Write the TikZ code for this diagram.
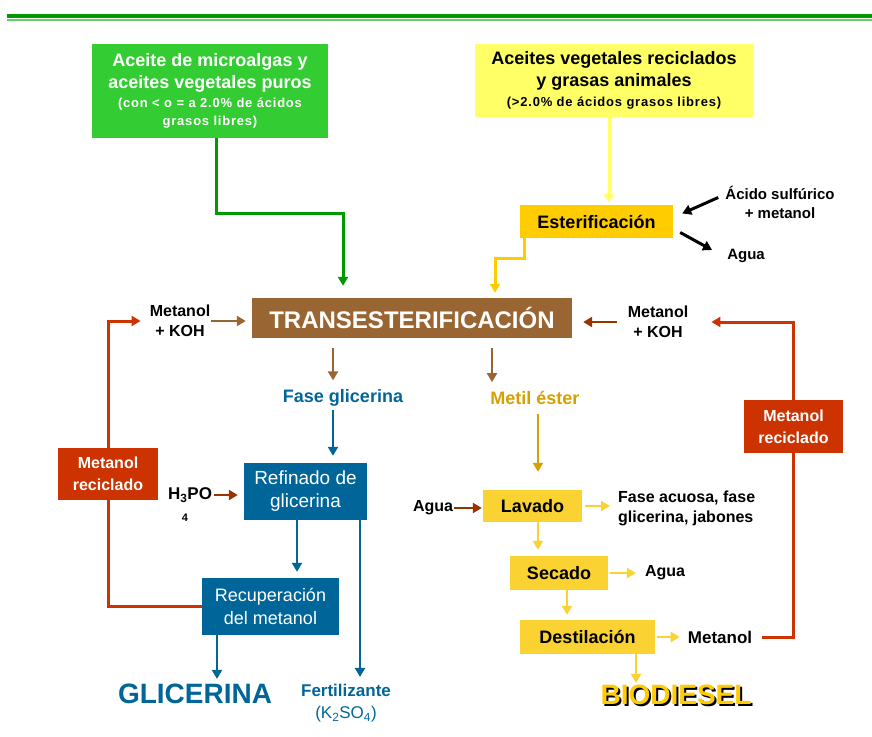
\documentclass[tikz,border=0pt]{standalone}
\usepackage{fontspec}
\setmainfont{Liberation Sans}
\usetikzlibrary{arrows.meta,positioning,calc}
\definecolor{bdgreen}{RGB}{0,153,0}
\definecolor{bdlgreen}{RGB}{102,204,102}
\definecolor{bdboxgreen}{RGB}{51,204,51}
\definecolor{bdpale}{RGB}{255,255,102}
\definecolor{bdamber}{RGB}{255,204,0}
\definecolor{bdgold}{RGB}{250,210,50}
\definecolor{bdochre}{RGB}{214,160,0}
\definecolor{bdbrown}{RGB}{153,102,51}
\definecolor{bdrust}{RGB}{153,51,0}
\definecolor{bdred}{RGB}{204,51,0}
\definecolor{bdblue}{RGB}{0,102,153}
\newcommand{\fsz}[2]{\fontsize{#1}{#2}\selectfont}
\newcommand{\smallbf}{\fsz{13}{18}\bfseries\addfontfeature{LetterSpace=6}}

\begin{document}
\begin{tikzpicture}[x=1pt,y=-1pt,
  box/.style={inner sep=0pt, align=center},
  lbl/.style={inner sep=1pt, align=center, font=\fsz{16}{20}\bfseries},
  flow/.style={-{Triangle[length=9pt,width=10pt]}, line width=2.5pt},
  big/.style={font=\fsz{18}{22}\bfseries}]
  \useasboundingbox (0,0) rectangle (872,736);
  % Header rule
  \fill[bdgreen] (7,13.5) rectangle (872,17.5);
  \fill[bdlgreen] (7,18.8) rectangle (872,20.8);
  % Feedstocks
  \node[box, big, fill=bdboxgreen, text=white, minimum width=236, minimum height=94] (micro) at (210,91)
    {Aceite de microalgas y\\aceites vegetales puros\\[-3pt]
     \smallbf (con < o = a 2.0\% de ácidos\\[-4pt]\smallbf grasos libres)};
  \node[box, big, fill=bdpale, minimum width=278, minimum height=73] (recic) at (614,80.5)
    {Aceites vegetales reciclados\\y grasas animales\\[-2pt]
     \smallbf (>2.0\% de ácidos grasos libres)};
  % Esterification step
  \node[box, big, fill=bdamber, minimum width=153, minimum height=33] (ester) at (596.5,221.5) {Esterificación};
  \node[lbl, font=\fsz{15}{19}\bfseries] (acido) at (780,202.5) {Ácido sulfúrico\\+ metanol};
  \node[lbl, font=\fsz{15}{19}\bfseries] (agua1) at (746,256) {Agua};
  % Main reactor
  \node[box, fill=bdbrown, text=white, minimum width=320, minimum height=40, font=\fsz{24}{28}\bfseries] (trans) at (412,318) {TRANSESTERIFICACIÓN};
  \node[lbl] (kohL) at (180,321) {Metanol\\+ KOH};
  \node[lbl] (kohR) at (658,322) {Metanol\\+ KOH};
  \node[lbl, big, text=bdblue] (fase) at (343,398) {Fase glicerina};
  \node[lbl, big, text=bdochre] (metil) at (535,398) {Metil éster};
  % Glycerine branch
  \node[box, fill=bdblue, text=white, minimum width=123, minimum height=57, font=\fsz{19}{23}] (refin) at (305.5,491.5) {Refinado de\\glicerina};
  \node[box, fill=bdblue, text=white, minimum width=137, minimum height=57, font=\fsz{18}{23}] (recup) at (270.5,606.5) {Recuperación\\del metanol};
  \node[box, fill=bdred, text=white, minimum width=100, minimum height=52, font=\fsz{16}{22}\bfseries] (mrL) at (108,474) {Metanol\\reciclado};
  \node[lbl, font=\fsz{17}{20}\bfseries] (h3po) at (190,495) {H\textsubscript{3}PO};
  \node[lbl, font=\fsz{11}{13}\bfseries] (h3sub) at (185,518) {4};
  \node[lbl, font=\fsz{28}{32}\bfseries, text=bdblue] (glic) at (195,694) {GLICERINA};
  \node[lbl, font=\fsz{17}{22}, text=bdblue] (fert) at (346,703) {\bfseries Fertilizante\\(K\textsubscript{2}SO\textsubscript{4})};
  % Ester branch
  \node[box, big, fill=bdgold, minimum width=99, minimum height=32] (lavado) at (532.5,506) {Lavado};
  \node[box, big, fill=bdgold, minimum width=98, minimum height=34] (secado) at (559,573) {Secado};
  \node[box, big, fill=bdgold, minimum width=135, minimum height=34] (destil) at (587.5,637) {Destilación};
  \node[lbl] (aguaL) at (433,508) {Agua};
  \node[lbl, anchor=west, align=left] (faseac) at (617,508) {Fase acuosa, fase\\glicerina, jabones};
  \node[lbl] (agua2) at (665,573) {Agua};
  \node[lbl, font=\fsz{17}{20}\bfseries] (metanol) at (720,637) {Metanol};
  \node[box, fill=bdred, text=white, minimum width=99, minimum height=53, font=\fsz{16}{22}\bfseries] (mrR) at (793.5,426.5) {Metanol\\reciclado};
  % shadowed title
  \node[lbl, font=\fsz{28}{32}\bfseries] (bio) at (678,696)
    {{\color{black}BIODIESEL}\llap{\raisebox{2pt}{\color{bdamber}BIODIESEL}\hspace{2pt}}};
  % Feed lines
  \draw[flow, bdgreen, line width=3pt, shorten >=12pt] ([xshift=6]micro.south) -- ++(0,75) -| ([xshift=-69]trans.north);
  \draw[flow, bdpale, line width=3pt, shorten >=2pt] ([xshift=-5]recic.south) -- ([xshift=12.5]ester.north);
  \draw[flow, bdamber, line width=3pt, shorten >=5pt] ([xshift=-72]ester.south) -- ++(0,20) -| ([xshift=83]trans.north);
  \draw[flow, black, line width=3pt] ([shift={(-6,-5)}]acido.west) -- ([shift={(9,-8)}]ester.east);
  \draw[flow, black, line width=3pt] ([shift={(7,11)}]ester.east) -- ([shift={(-14,-6)}]agua1.west);
  \draw[flow, bdbrown, shorten >=6pt] (kohL.east) -- (kohL.east -| trans.west);
  \draw[flow, bdrust, shorten <=10pt, shorten >=11pt] (kohR.west) -- (kohR.west -| trans.east);
  % Recycled methanol
  \draw[flow, bdred, line width=3pt, shorten >=22pt] (mrR.north) |- (kohR.east);
  \draw[bdred, line width=3pt, shorten <=9pt] (metanol.east) -| (mrR.south);
  \draw[flow, bdred, line width=3pt, shorten >=8pt] (mrL.north) |- (kohL.west);
  \draw[bdred, line width=3pt] (mrL.south) |- (recup.west);
  % Products of transesterification
  \draw[flow, bdbrown] ([shift={(-79,10)}]trans.south) -- ([shift={(-10,-8)}]fase.north);
  \draw[flow, bdbrown] ([shift={(80,10)}]trans.south) -- ([shift={(-43,-8)}]metil.north);
  \draw[flow, bdblue] ([shift={(-10,2)}]fase.south) -- ([shift={(27.5,-7)}]refin.north);
  \draw[flow, bdblue] ([xshift=-8.5]refin.south) -- ([shift={(26.5,-6)}]recup.north);
  \draw[flow, bdblue] ([xshift=54.5]refin.south) -- ([shift={(14,-6)}]fert.north);
  \draw[flow, bdblue] ([xshift=-53.5]recup.south) -- ([shift={(22,-4)}]glic.north);
  \draw[flow, bdrust, shorten <=1pt, shorten >=6pt] (h3po.east) -- (h3po.east -| refin.west);
  % Biodiesel purification
  \draw[flow, bdochre] ([shift={(3,8)}]metil.south) -- ([shift={(5.5,-18)}]lavado.north);
  \draw[flow, bdrust, shorten >=1pt] (aguaL.east) -- (aguaL.east -| lavado.west);
  \draw[flow, bdgold, shorten <=3pt, shorten >=7pt] (lavado.east) -- (lavado.east -| faseac.west);
  \draw[flow, bdgold, shorten >=6pt] ([xshift=5.5]lavado.south) -- ([xshift=-21]secado.north);
  \draw[flow, bdgold, shorten <=2pt, shorten >=8pt] (secado.east) -- (agua2.west);
  \draw[flow, bdgold, shorten >=5pt] ([xshift=8]secado.south) -- ([xshift=-20.5]destil.north);
  \draw[flow, bdgold, shorten <=2pt, shorten >=7pt] (destil.east) -- (metanol.west);
  \draw[flow, bdgold, shorten >=1pt] ([xshift=48.5]destil.south) -- ([xshift=-42]bio.north);
\end{tikzpicture}
\end{document}
